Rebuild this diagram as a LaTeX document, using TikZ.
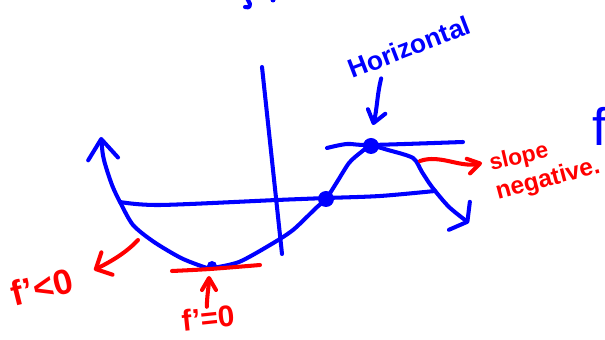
\documentclass[tikz,border=0pt]{standalone}
\usepackage{fontspec}
\setmainfont{Liberation Sans}
\usetikzlibrary{arrows.meta,calc}
\begin{document}
\begin{tikzpicture}[x=0.02cm,y=-0.02cm,line cap=round,line join=round]
\tikzset{
  ink/.style={draw=blue, line width=2.3pt},
  rink/.style={draw=red, line width=2.3pt},
  btext/.style={text=blue, inner sep=0pt, font=\bfseries\fontsize{15}{18}\selectfont},
  rtext/.style={text=red, inner sep=0pt},
  barb/.style 2 args={-{Straight Barb[round,length=#1,width=#2]}},
}
\clip (0,0) rectangle (605,340);

% axes
\coordinate (xl) at (120,202);
\coordinate (xr) at (435,191);
\coordinate (yt) at (262,67);
\coordinate (yb) at (282,254);
\draw[ink] plot[smooth,tension=0.5] coordinates {(xl) (160,205) (277,200) (327,198) (380,196) (xr)};
\draw[ink] (yt) -- (yb);

% main curve with arrow ends
\draw[ink, {Straight Barb[round,length=4mm,width=6mm]}-{Straight Barb[round,length=2mm,width=7mm]}]
  plot[smooth,tension=0.45] coordinates {(101,137) (104,160) (112,185) (120,202) (133,225) (154,242) (181,258) (204,267) (212,268) (239,262) (270,245) (293,230) (316,208) (326,199) (337,182) (349,163) (360,153) (371,146) (388,150) (413,158) (422,172) (432,187) (449,207) (469,223)};

% horizontal tangent at the top
\draw[ink] plot[smooth,tension=0.5] coordinates {(327,148) (347,144) (371,145) (463,142)};

% points
\coordinate (mid) at (326,199);
\coordinate (top) at (371,146);
\coordinate (minpt) at (212,266);
\fill[blue] (mid) circle (8);
\fill[blue] (top) circle (8);
\fill[blue] (minpt) circle (5);

% red tangent at the minimum
\draw[rink] plot[smooth,tension=0.5] coordinates {(172,271) (210,269) (260,265)};

% labels
\node[btext, rotate=21] (horiz) at (409,47) {Horizontal};
\node[rtext, rotate=13, font=\bfseries\fontsize{13}{15}\selectfont] (slope) at (519,158) {slope};
\node[rtext, rotate=15, font=\bfseries\fontsize{14}{16}\selectfont] (neg) at (548,180) {negative.};
\node[rtext, rotate=14, font=\bfseries\fontsize{20}{22}\selectfont] (fneg) at (42,287) {f'<0};
\node[rtext, rotate=6, font=\bfseries\fontsize{17}{19}\selectfont] (fzero) at (208,318) {f'=0};
\node[text=blue, inner sep=0pt, anchor=base west, font=\fontsize{30}{32}\selectfont] (fright) at (592,146) {f};

% connectors
\coordinate (hstart) at ($(horiz.south west)!0.24!(horiz.south east)+(0,10)$);
\coordinate (htip) at (373,125);
\draw[ink, barb={2.4mm}{3.6mm}] (hstart) .. controls (377,95) and (377,110) .. (htip);

\coordinate (sstart) at (420,161);
\coordinate (stip) at (482,163);
\draw[rink, barb={2.4mm}{3mm}] (sstart) .. controls (440,154) and (460,168) .. (stip);

\coordinate (nstart) at (138,240);
\coordinate (ntip) at (94,270);
\draw[rink, barb={2.5mm}{5mm}] (nstart) .. controls (126,253) and (110,262) .. (ntip);

\coordinate (ztip) at (209,276);
\draw[rink, barb={2.4mm}{2.8mm}] (fzero.north) .. controls (207,295) and (209,285) .. (ztip);

% cut-off stroke fragments at the top edge
\draw[ink] (247,-2) -- (250,4) .. controls (250,8) and (247,8) .. (245,7);
\fill[blue] (273,0) circle (2.5);
\end{tikzpicture}
\end{document}
